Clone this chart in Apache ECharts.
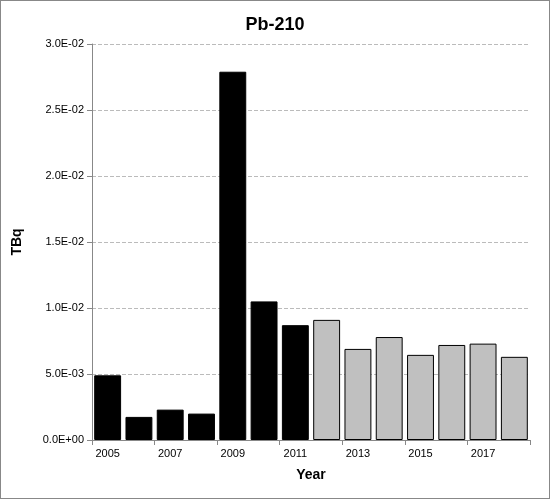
<!DOCTYPE html>
<html>
<head>
<meta charset="utf-8">
<script src="https://cdn.jsdelivr.net/npm/echarts@6/dist/echarts.min.js"></script>
<style>
  html, body { margin: 0; padding: 0; background: #fff; }
  #chart { width: 548px; height: 497px; border: 1px solid #888; }
</style>
</head>
<body>
<div id="chart"></div>
<script>
var years = ['2005', '2006', '2007', '2008', '2009', '2010', '2011',
  '2012', '2013', '2014', '2015', '2016', '2017', '2018'];
var values = [4.9e-3, 1.75e-3, 2.3e-3, 2.0e-3, 2.79e-2, 1.05e-2, 8.7e-3,
  9.1e-3, 6.9e-3, 7.8e-3, 6.45e-3, 7.2e-3, 7.3e-3, 6.3e-3];
var lastMeasured = '2011'; // black up to this year, grey afterwards

function sci(v) {
  if (v === 0) return '0.0E+00';
  var s = v.toExponential(1).toUpperCase();
  var parts = s.split('E');
  var sign = parts[1].charAt(0);
  var exp = parts[1].slice(1);
  if (exp.length < 2) exp = '0' + exp;
  return parts[0] + 'E' + sign + exp;
}

var cutIdx = years.indexOf(lastMeasured);
var barData = values.map(function (v, i) {
  return {
    value: v,
    itemStyle: i <= cutIdx
      ? { color: '#000', borderColor: '#000', borderWidth: 1 }
      : { color: '#c0c0c0', borderColor: '#000', borderWidth: 1 }
  };
});

var chart = echarts.init(document.getElementById('chart'));
chart.setOption({
  animation: false,
  title: {
    text: 'Pb-210', left: 'center', top: 10,
    textStyle: { fontFamily: 'Liberation Sans', fontSize: 18, fontWeight: 'bold', color: '#000' }
  },
  grid: { left: 91, right: 19, top: 43, bottom: 58 },
  xAxis: {
    type: 'category', data: years,
    name: 'Year', nameLocation: 'middle', nameGap: 28,
    nameTextStyle: { fontFamily: 'Liberation Sans', fontSize: 14, fontWeight: 'bold', color: '#000' },
    axisLine: { lineStyle: { color: '#888' } },
    axisTick: { show: true, alignWithLabel: false, lineStyle: { color: '#888' } },
    axisLabel: { fontFamily: 'Liberation Sans', fontSize: 11, color: '#000' }
  },
  yAxis: {
    type: 'value', min: 0, max: 0.03, interval: 0.005,
    name: 'TBq', nameLocation: 'middle', nameGap: 68,
    nameTextStyle: { fontFamily: 'Liberation Sans', fontSize: 14, fontWeight: 'bold', color: '#000' },
    axisLine: { show: true, lineStyle: { color: '#888' } },
    axisTick: { show: true, lineStyle: { color: '#888' } },
    axisLabel: { fontFamily: 'Liberation Sans', fontSize: 11, color: '#000', formatter: sci },
    splitLine: { lineStyle: { type: 'dashed', color: '#bbb' } }
  },
  series: [{
    type: 'bar', data: barData, barCategoryGap: '14%'
  }]
});
</script>
</body>
</html>
